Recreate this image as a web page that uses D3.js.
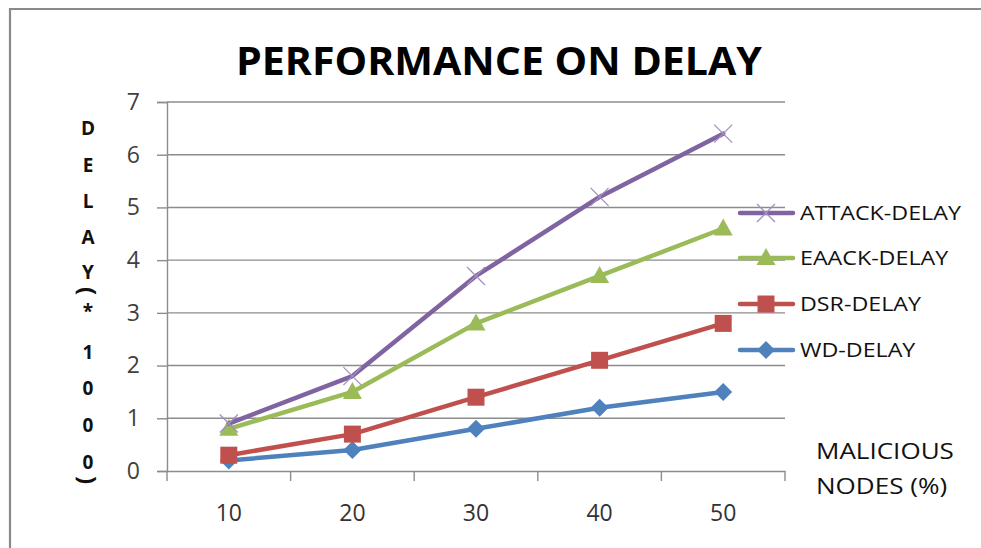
<!DOCTYPE html>
<html>
<head>
<meta charset="utf-8">
<script src="https://cdn.jsdelivr.net/npm/d3@7"></script>
<style>
  html, body { margin: 0; padding: 0; background: #fff; }
  svg { display: block; }
</style>
</head>
<body>
<svg id="chart" width="981" height="548"></svg>
<script>
// Malicious node percentages on the x axis
const categories = ["10", "20", "30", "40", "50"];

// Delay (x1000) for each scheme
const attackDelay = [0.9, 1.8, 3.7, 5.2, 6.4];
const eaackDelay  = [0.8, 1.5, 2.8, 3.7, 4.6];
const dsrDelay    = [0.3, 0.7, 1.4, 2.1, 2.8];
const wdDelay     = [0.2, 0.4, 0.8, 1.2, 1.5];

const yTicks = [0, 1, 2, 3, 4, 5, 6, 7];

const seriesNames = ["ATTACK-DELAY", "EAACK-DELAY", "DSR-DELAY", "WD-DELAY"];
const seriesColors = ["#8064A2", "#9BBB59", "#C0504D", "#4F81BD"];
const seriesMarkers = ["cross", "triangle", "square", "diamond"];

const series = [
  { name: seriesNames[0], values: attackDelay, color: seriesColors[0], marker: seriesMarkers[0] },
  { name: seriesNames[1], values: eaackDelay,  color: seriesColors[1], marker: seriesMarkers[1] },
  { name: seriesNames[2], values: dsrDelay,    color: seriesColors[2], marker: seriesMarkers[2] },
  { name: seriesNames[3], values: wdDelay,     color: seriesColors[3], marker: seriesMarkers[3] }
];

const svg = d3.select("#chart");
const font = "'Open Sans', 'Noto Sans', sans-serif";

// Stretch a text element horizontally about its start so it spans `width` pixels
function fitWidth(sel, x0, width) {
  const w = sel.node().getComputedTextLength();
  const k = width / w;
  sel.attr("transform", `translate(${x0},0) scale(${k},1) translate(${-x0},0)`);
  return k;
}

// Outer frame (only left and top edges are visible inside the page)
svg.append("path")
  .attr("d", "M10,548 V9 H981")
  .attr("fill", "none")
  .attr("stroke", "#8a8a8a")
  .attr("stroke-width", 2.2);

const plot = { left: 167, right: 785, top: 102, bottom: 471 };

const x = d3.scaleBand().domain(categories).range([plot.left, plot.right]).padding(0);
const y = d3.scaleLinear().domain([0, 7]).range([plot.bottom, plot.top]);
const cx = c => x(c) + x.bandwidth() / 2;

// Title
svg.append("text")
  .attr("x", 499).attr("y", 75)
  .attr("text-anchor", "middle")
  .attr("font-family", font)
  .attr("font-weight", "bold")
  .attr("font-size", 40)
  .attr("textLength", 526)
  .attr("lengthAdjust", "spacingAndGlyphs")
  .attr("fill", "#000")
  .text("PERFORMANCE ON DELAY");

// Horizontal gridlines
svg.append("g")
  .selectAll("line")
  .data(yTicks.filter(t => t > 0))
  .join("line")
  .attr("x1", plot.left).attr("x2", plot.right)
  .attr("y1", d => y(d)).attr("y2", d => y(d))
  .attr("stroke", "#8c8c8c")
  .attr("stroke-width", 1.4);

// Y axis
const yAxis = svg.append("g")
  .attr("transform", `translate(${plot.left},0)`)
  .call(d3.axisLeft(y).tickValues(yTicks).tickSize(10).tickPadding(17).tickFormat(d3.format("d")));
yAxis.select(".domain").attr("stroke", "#8c8c8c").attr("stroke-width", 1.4);
yAxis.selectAll(".tick line").attr("stroke", "#8c8c8c").attr("stroke-width", 1.4);
yAxis.selectAll(".tick text")
  .attr("font-family", font).attr("font-size", 23).attr("fill", "#404040");

// X axis (category ticks between categories)
const xAxis = svg.append("g")
  .attr("transform", `translate(0,${plot.bottom})`)
  .call(d3.axisBottom(x).tickSize(0).tickPadding(34));
xAxis.select(".domain").attr("stroke", "#8c8c8c").attr("stroke-width", 1.4);
xAxis.selectAll(".tick text")
  .attr("font-family", font).attr("font-size", 23).attr("fill", "#333");
const bounds = categories.map(c => x(c)).concat([x(categories[categories.length - 1]) + x.bandwidth()]);
xAxis.selectAll(".sep")
  .data(bounds)
  .join("line")
  .attr("class", "sep")
  .attr("x1", d => d).attr("x2", d => d)
  .attr("y1", 0).attr("y2", 10)
  .attr("stroke", "#8c8c8c").attr("stroke-width", 1.4);

// Marker drawing helper
function drawMarker(g, type, color, px, py) {
  if (type === "square") {
    g.append("rect").attr("x", px - 8.5).attr("y", py - 8.5).attr("width", 17).attr("height", 17)
      .attr("fill", color);
  } else if (type === "triangle") {
    g.append("path").attr("d", `M${px},${py - 10} L${px + 9.5},${py + 7} L${px - 9.5},${py + 7} Z`)
      .attr("fill", color);
  } else if (type === "diamond") {
    g.append("path").attr("d", `M${px},${py - 9} L${px + 9},${py} L${px},${py + 9} L${px - 9},${py} Z`)
      .attr("fill", color);
  } else if (type === "cross") {
    g.append("path").attr("d", `M${px - 9},${py - 9} L${px + 9},${py + 9} M${px + 9},${py - 9} L${px - 9},${py + 9}`)
      .attr("stroke", "#A390C2").attr("stroke-width", 1.3).attr("fill", "none");
  }
}

const line = d3.line().x((d, i) => cx(categories[i])).y(d => y(d));

// Series lines and markers (bottom series drawn first)
series.slice().reverse().forEach(s => {
  const g = svg.append("g");
  g.append("path")
    .datum(s.values)
    .attr("d", line)
    .attr("fill", "none")
    .attr("stroke", s.color)
    .attr("stroke-width", 4.5)
    .attr("stroke-linejoin", "round")
    .attr("stroke-linecap", "round");
  s.values.forEach((v, i) => drawMarker(g, s.marker, s.color, cx(categories[i]), y(v)));
});

// Legend
const legendY = [213, 258, 304, 350];
let legendScale = null;
series.forEach((s, i) => {
  const g = svg.append("g");
  const ly = legendY[i];
  g.append("line")
    .attr("x1", 740).attr("x2", 793).attr("y1", ly).attr("y2", ly)
    .attr("stroke", s.color).attr("stroke-width", 4.5).attr("stroke-linecap", "round");
  drawMarker(g, s.marker, s.color, 766, ly);
  const t = g.append("text")
    .attr("x", 800).attr("y", ly + 7)
    .attr("font-family", font).attr("font-size", 20).attr("fill", "#111")
    .text(s.name);
  if (legendScale === null) {
    legendScale = fitWidth(t, 800, 161);
  } else {
    t.attr("transform", `translate(800,0) scale(${legendScale},1) translate(-800,0)`);
  }
});

// X axis title
const xt1 = svg.append("text")
  .attr("x", 816).attr("y", 459)
  .attr("font-family", font).attr("font-size", 22).attr("fill", "#111")
  .text("MALICIOUS");
const xk = fitWidth(xt1, 816, 138);
svg.append("text")
  .attr("x", 816).attr("y", 494)
  .attr("font-family", font).attr("font-size", 22).attr("fill", "#111")
  .attr("transform", `translate(816,0) scale(${xk},1) translate(-816,0)`)
  .text("NODES (%)");

// Y axis title: stacked characters, parentheses turned sideways
const yChars = [
  { ch: "D", y: 128 }, { ch: "E", y: 165 }, { ch: "L", y: 201 }, { ch: "A", y: 237 },
  { ch: "Y", y: 272 }, { ch: "(", y: 291, rot: true }, { ch: "*", y: 311 }, { ch: "1", y: 352 },
  { ch: "0", y: 388 }, { ch: "0", y: 425 }, { ch: "0", y: 462 }, { ch: ")", y: 480, rot: true }
];
svg.append("g")
  .selectAll("text")
  .data(yChars)
  .join("text")
  .attr("text-anchor", "middle")
  .attr("dominant-baseline", "central")
  .attr("font-family", font)
  .attr("font-weight", "bold")
  .attr("font-size", d => d.rot ? 24 : 19)
  .attr("fill", "#111")
  .attr("transform", d => `translate(88,${d.y})` + (d.rot ? " rotate(90)" : ""))
  .text(d => d.ch);
</script>
</body>
</html>
